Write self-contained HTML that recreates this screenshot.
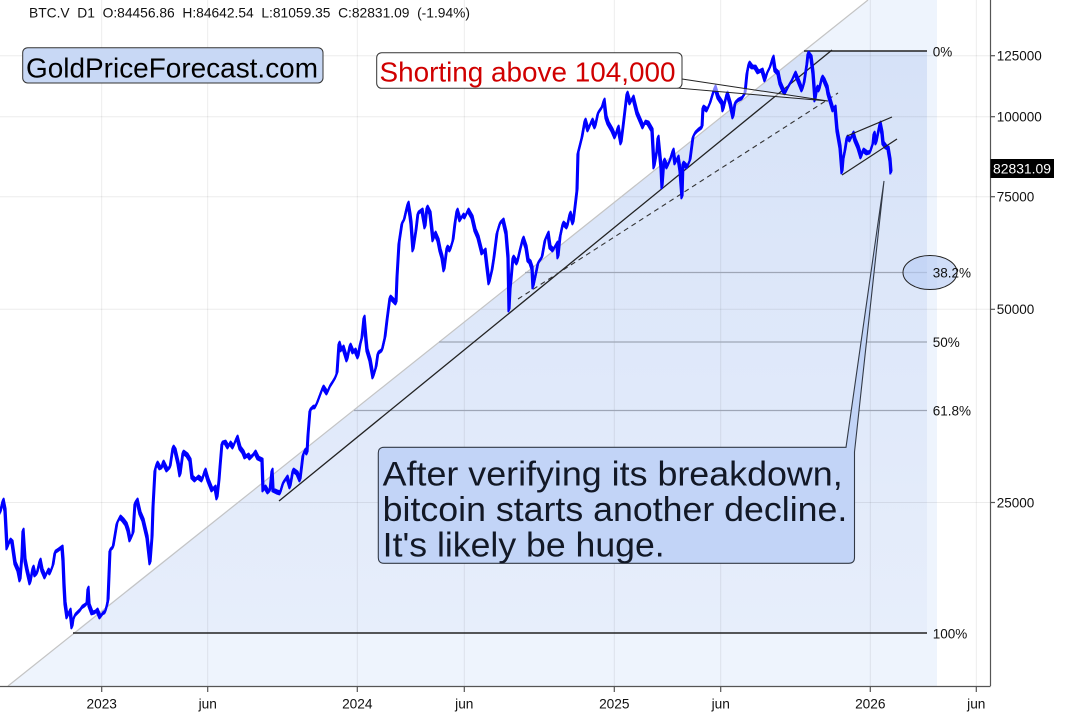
<!DOCTYPE html>
<html>
<head>
<meta charset="utf-8">
<style>
html,body{margin:0;padding:0;background:#ffffff;}
svg{display:block;}
text{font-family:"Liberation Sans",Arial,Helvetica,sans-serif;}
</style>
</head>
<body>
<svg width="1075" height="716" viewBox="0 0 1075 716" xmlns="http://www.w3.org/2000/svg" xmlns:xlink="http://www.w3.org/1999/xlink">
  <defs>
    <linearGradient id="band" x1="0" y1="0" x2="0" y2="1">
      <stop offset="0" stop-color="#d6e2f8"/>
      <stop offset="1" stop-color="#e7eefb"/>
    </linearGradient>
    <polyline id="px" fill="none" stroke="#0000ff" stroke-linejoin="round" points="
0,513 3,500 5,510 7,548 10,540 12,542 15,563 18,570 20,580 22,555 23,530 25,560 27,570 30,583 33,567 35,575 37,573 40,560 42,570 45,577 48,570 50,573 53,565 55,552 58,550 62,547 63,560 64,585 65,603 67,617 70,610 72,627 73,620 75,615 77,613 80,610 82,607 85,605 87,603 88,588 89,605 92,613 95,612 97,610 100,617 103,613 105,612 107,605 108,600 109,575 110,550 113,547 115,535 117,523 120,517 123,520 126,524 128,530
130,540 133,533 135,503 137,500 140,513 143,520 147,537 150,563 152,537 153,507 155,470 157,463 160,468 162,467 163,462 167,470 170,467 173,447 175,450 178,463 180,475 183,452 187,455 190,460 192,477 195,480 198,477 202,480 205,470 208,480 212,490 215,487 217,498 219,480 220,467 222,443 225,442 228,447 230,443 233,447 237,437 240,448 243,452 245,457 248,455 250,458 253,455 255,452 258,458 262,460 263,490 265,487 268,492 270,490 272,470 273,490 277,492 280,493 283,483 287,477 290,487
293,470 297,473 300,480 303,455 305,450 307,453 308,435 310,410 313,407 315,407 317,403 320,395 323,387 327,393 330,386 332,383 335,378 337,373 339,343 341,350 343,347 347,360 350,345 353,352 355,350 358,357 360,345 362,337 364,317 366,340 367,350 370,360 373,377 376,367 378,353 382,350 385,337 387,320 390,297 393,300 396,303 397,277 399,243 402,223 404,220 407,207 408,203 410,215 411,223 413,250 416,230 418,213 422,210 425,227 427,207 430,213 433,240 435,233 438,240 440,250 442,257 444,270 447,247 450,250 453,240 455,223 457,210 460,220 463,215 465,217 468,210 472,217 475,230 478,237 480,245 482,253 485,250 487,267 489,283 492,270 494,257 497,233 500,223 503,220 506,233 508,257 509,310 510,290 511,280 513,257 517,263 520,250 523,238 526,247 528,260 530,262 532,268 533,287 536,273 538,263 542,257 545,240 548,233 550,247 553,250 557,243 558,257 560,237 563,223 567,227 570,213 573,223 575,207 577,190
578,153 580,145 582,137 585,120 588,130 592,120 595,127 598,113 602,107 604,100 606,117 608,123 612,130 615,137 618,127 621,143 623,127 625,110 627,93 630,103 633,97 637,113 640,120 643,127 645,122 648,123 652,130 654,167 657,150 658,137 661,167 662,187 664,160 667,167 670,160 673,150 675,163 678,157 680,170 682,197 683,163 687,167 690,160 693,137 695,133 698,130 702,127 703,107 707,110 710,103 713,93 715,87 718,97 722,103 723,110 727,93 730,103 733,117 735,103 738,100 742,98 745,93 747,73 749,63 752,67 755,67 758,72 762,70 765,80 767,73 770,67 773,57 775,70 778,73 780,83 783,90 785,93 788,87 792,80 795,73 798,80 802,90 804,83 807,63 808,53 811,57 813,73 815,100 817,87 819,90 822,77 824,80 827,87 828,93 830,100 833,110 835,107 837,130 840,147 842,172 843,160 845,150 847,137 850,140 853,133 855,140 858,147 861,157 863,150 867,153 870,152 873,143 874,133 876,143 878,133 880,123 882,133 883,143 886,147 888,148 890,160 891,173"/>
  </defs>
  <rect x="0" y="0" width="1075" height="716" fill="#ffffff"/>

  <!-- shading -->
  <polygon points="8,686 868,0 937,0 937,686" fill="#eef4fd"/>
  <polygon points="804,51 927,51 927,633 73,633" fill="url(#band)"/>

  <!-- grid -->
  <g stroke="rgba(0,0,0,0.075)" stroke-width="1">
    <line x1="101.7" y1="0" x2="101.7" y2="686"/>
    <line x1="207.7" y1="0" x2="207.7" y2="686"/>
    <line x1="357.3" y1="0" x2="357.3" y2="686"/>
    <line x1="464.3" y1="0" x2="464.3" y2="686"/>
    <line x1="614.3" y1="0" x2="614.3" y2="686"/>
    <line x1="720.7" y1="0" x2="720.7" y2="686"/>
    <line x1="870.3" y1="0" x2="870.3" y2="686"/>
    <line x1="976.3" y1="0" x2="976.3" y2="686"/>
    <line x1="0" y1="55.7" x2="990" y2="55.7"/>
    <line x1="0" y1="116.7" x2="990" y2="116.7"/>
    <line x1="0" y1="196.7" x2="990" y2="196.7"/>
    <line x1="0" y1="309.3" x2="990" y2="309.3"/>
    <line x1="0" y1="502.5" x2="990" y2="502.5"/>
  </g>

  <!-- diagonal gray -->
  <line x1="8" y1="686" x2="868" y2="0" stroke="#c4c4c4" stroke-width="1.2"/>

  <!-- fib lines -->
  <g stroke="#9ea6b6" stroke-width="1.2">
    <line x1="525" y1="272.5" x2="927" y2="272.5"/>
    <line x1="439" y1="342" x2="927" y2="342"/>
    <line x1="354" y1="410.5" x2="927" y2="410.5"/>
  </g>
  <line x1="804" y1="51" x2="927" y2="51" stroke="#222" stroke-width="1.4"/>
  <line x1="73" y1="633" x2="927" y2="633" stroke="#222" stroke-width="1.4"/>

  <!-- support lines -->
  <line x1="279" y1="501" x2="832" y2="50" stroke="#222" stroke-width="1.3"/>
  <line x1="518" y1="299" x2="838" y2="93" stroke="#333" stroke-width="1.1" stroke-dasharray="5,4"/>

  <!-- price (thickened to mimic daily bars) -->
  <use xlink:href="#px" href="#px" stroke-width="2" transform="translate(0.6,-1.4)"/>
  <use xlink:href="#px" href="#px" stroke-width="2" transform="translate(-0.6,1.4)"/>
  <use xlink:href="#px" href="#px" stroke-width="2.2"/>

  <!-- channel -->
  <line x1="847" y1="136" x2="892" y2="117" stroke="#222" stroke-width="1.2"/>
  <line x1="842" y1="175" x2="897" y2="139" stroke="#222" stroke-width="1.2"/>

  <!-- ellipse -->
  <ellipse cx="930" cy="272.5" rx="27" ry="17" fill="rgba(185,205,245,0.65)" stroke="#222" stroke-width="1"/>

  <!-- axes -->
  <line x1="990.5" y1="0" x2="990.5" y2="686" stroke="#555" stroke-width="1.2"/>
  <line x1="0" y1="686.5" x2="990.5" y2="686.5" stroke="#555" stroke-width="1.2"/>
  <g stroke="#555" stroke-width="1.2">
    <line x1="101.7" y1="686" x2="101.7" y2="692"/>
    <line x1="207.7" y1="686" x2="207.7" y2="692"/>
    <line x1="357.3" y1="686" x2="357.3" y2="692"/>
    <line x1="464.3" y1="686" x2="464.3" y2="692"/>
    <line x1="614.3" y1="686" x2="614.3" y2="692"/>
    <line x1="720.7" y1="686" x2="720.7" y2="692"/>
    <line x1="870.3" y1="686" x2="870.3" y2="692"/>
    <line x1="976.3" y1="686" x2="976.3" y2="692"/>
    <line x1="990" y1="55.7" x2="995" y2="55.7"/>
    <line x1="990" y1="116.7" x2="995" y2="116.7"/>
    <line x1="990" y1="196.7" x2="995" y2="196.7"/>
    <line x1="990" y1="309.3" x2="995" y2="309.3"/>
    <line x1="990" y1="502.5" x2="995" y2="502.5"/>
  </g>

  <!-- bottom labels -->
  <g font-size="13.7" fill="#111" text-anchor="middle">
    <text x="101.7" y="708.3">2023</text>
    <text x="207.7" y="708.3">jun</text>
    <text x="357.3" y="708.3">2024</text>
    <text x="464.3" y="708.3">jun</text>
    <text x="614.3" y="708.3">2025</text>
    <text x="720.7" y="708.3">jun</text>
    <text x="870.3" y="708.3">2026</text>
    <text x="976.3" y="708.3">jun</text>
  </g>

  <!-- right labels -->
  <g font-size="13.5" fill="#111">
    <text x="996.7" y="60.5">125000</text>
    <text x="996.7" y="121.5">100000</text>
    <text x="996.7" y="201.5">75000</text>
    <text x="996.7" y="314">50000</text>
    <text x="996.7" y="507.3">25000</text>
  </g>
  <rect x="990.5" y="159" width="63.5" height="19" fill="#000"/>
  <text x="993" y="173.5" font-size="13.5" fill="#fff" textLength="58" lengthAdjust="spacingAndGlyphs">82831.09</text>

  <!-- fib labels -->
  <g font-size="13.5" fill="#111">
    <text x="932.7" y="56.5">0%</text>
    <text x="932.7" y="277.5">38.2%</text>
    <text x="932.7" y="347">50%</text>
    <text x="932.7" y="415.5">61.8%</text>
    <text x="932.7" y="638.5">100%</text>
  </g>

  <!-- header -->
  <text x="29" y="17.5" font-size="13.7" fill="#111" xml:space="preserve" textLength="441" lengthAdjust="spacingAndGlyphs">BTC.V  D1  O:84456.86  H:84642.54  L:81059.35  C:82831.09  (-1.94%)</text>

  <!-- Gold box -->
  <rect x="22.7" y="47.7" width="300.3" height="35.3" rx="5" fill="#c8d8f5" stroke="#333" stroke-width="1"/>
  <text x="26" y="77.3" font-size="27.8" fill="#000" textLength="292" lengthAdjust="spacingAndGlyphs">GoldPriceForecast.com</text>

  <!-- Shorting callout -->
  <polygon points="682,79 828,101 677,88" fill="#ffffff" fill-opacity="0.5" stroke="#222" stroke-width="1"/>
  <rect x="376.7" y="52.7" width="305.3" height="35.6" rx="5" fill="#ffffff" stroke="#333" stroke-width="1"/>
  <text x="379.5" y="81.5" font-size="27.5" fill="#d00000" textLength="296" lengthAdjust="spacingAndGlyphs">Shorting above 104,000</text>

  <!-- Annotation callout -->
  <path d="M 384,447.3 L 846,447.3 L 884,181 L 854.5,452 L 854.5,557.5 Q 854.5,563.3 848.5,563.3 L 384,563.3 Q 378.3,563.3 378.3,557.5 L 378.3,453 Q 378.3,447.3 384,447.3 Z" fill="#c2d4f7" stroke="#333a46" stroke-width="1.1"/>
  <g font-size="34" fill="#121826">
    <text x="382.7" y="485.7" textLength="460" lengthAdjust="spacingAndGlyphs">After verifying its breakdown,</text>
    <text x="382.7" y="521" textLength="464.6" lengthAdjust="spacingAndGlyphs">bitcoin starts another decline.</text>
    <text x="382.7" y="556.7" textLength="282" lengthAdjust="spacingAndGlyphs">It's likely be huge.</text>
  </g>
</svg>
</body>
</html>
